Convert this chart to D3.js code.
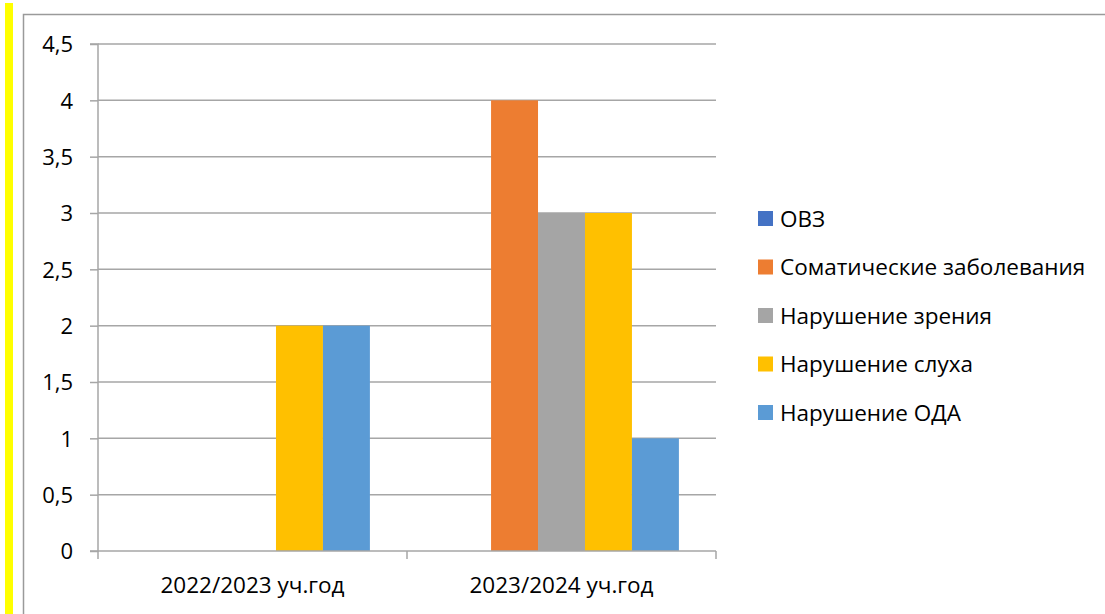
<!DOCTYPE html>
<html>
<head>
<meta charset="utf-8">
<script src="https://cdn.jsdelivr.net/npm/d3@7"></script>
<style>
  body { margin: 0; background: #fff; }
  text { font-family: "Open Sans", "Noto Sans", sans-serif; fill: #000; }
</style>
</head>
<body>
<svg id="chart" width="1105" height="614"></svg>
<script>
const categories = ["2022/2023 уч.год", "2023/2024 уч.год"];
const seriesNames = ["ОВЗ", "Соматические заболевания", "Нарушение зрения", "Нарушение слуха", "Нарушение ОДА"];
const seriesColors = ["#4472C4", "#ED7D31", "#A5A5A5", "#FFC000", "#5B9BD5"];
const values = [
  [0, 0],   // ОВЗ
  [0, 4],   // Соматические заболевания
  [0, 3],   // Нарушение зрения
  [2, 3],   // Нарушение слуха
  [2, 1]    // Нарушение ОДА
];
const yTicks = [0, 0.5, 1, 1.5, 2, 2.5, 3, 3.5, 4, 4.5];

const svg = d3.select("#chart");

// yellow strip and outer frame
svg.append("rect").attr("x", 5).attr("y", 3).attr("width", 8).attr("height", 611).attr("fill", "#FFFF00");
svg.append("path").attr("d", "M23.5,614 V14.5 H1105").attr("fill", "none").attr("stroke", "#9a9a9a").attr("stroke-width", 1.5);

const margin = { left: 98, top: 44, right: 716, bottom: 551 };

const x0 = d3.scaleBand().domain(categories).range([margin.left, margin.right]).paddingInner(0).paddingOuter(0);
const x1 = d3.scaleBand().domain(seriesNames).range([0, x0.bandwidth()]).paddingOuter(0.79).paddingInner(0);
const y = d3.scaleLinear().domain([0, 4.5]).range([margin.bottom, margin.top]);

// gridlines
svg.append("g").selectAll("line").data(yTicks.filter(d => d > 0)).join("line")
  .attr("x1", margin.left).attr("x2", margin.right)
  .attr("y1", d => y(d)).attr("y2", d => y(d))
  .attr("stroke", "#a6a6a6").attr("stroke-width", 1.5);

// bars
const rows = [];
seriesNames.forEach((s, i) => categories.forEach((c, j) => rows.push({ s, c, v: values[i][j], color: seriesColors[i] })));
svg.append("g").selectAll("rect").data(rows.filter(d => d.v > 0)).join("rect")
  .attr("x", d => x0(d.c) + x1(d.s))
  .attr("width", x1.bandwidth())
  .attr("y", d => y(d.v))
  .attr("height", d => y(0) - y(d.v))
  .attr("fill", d => d.color);

// y axis
const yAxis = d3.axisLeft(y).tickValues(yTicks).tickSize(8).tickFormat(d => String(d).replace(".", ","));
const gy = svg.append("g").attr("transform", `translate(${margin.left},0)`).call(yAxis);
gy.select(".domain").attr("stroke", "#a6a6a6").attr("stroke-width", 1.5).attr("d", `M-8,${margin.top}H0V${margin.bottom}H-8`);
gy.selectAll(".tick line").attr("stroke", "#a6a6a6").attr("stroke-width", 1.5);
gy.selectAll(".tick text").attr("x", -25).attr("dy", "0.36em").style("font-size", "22px").style("font-family", "'Open Sans', sans-serif");

// x axis
const xAxis = d3.axisBottom(x0).tickSize(0).tickPadding(0);
const gx = svg.append("g").attr("transform", `translate(0,${margin.bottom})`).call(xAxis);
gx.select(".domain").attr("stroke", "#a6a6a6").attr("stroke-width", 1.5).attr("d", `M${margin.left},0H${margin.right}`);
gx.selectAll(".tick text").attr("y", 42).attr("dy", 0).style("font-size", "22.5px").style("font-family", "'Open Sans', sans-serif");
const xBounds = [margin.left, margin.left + x0.bandwidth(), margin.right];
gx.append("g").selectAll("line").data(xBounds).join("line")
  .attr("x1", d => d).attr("x2", d => d).attr("y1", 0).attr("y2", 8)
  .attr("stroke", "#a6a6a6").attr("stroke-width", 1.5);

// legend
const legend = svg.append("g").attr("transform", "translate(758,211)");
const li = legend.selectAll("g").data(seriesNames).join("g").attr("transform", (d, i) => `translate(0,${i * 48.5})`);
li.append("rect").attr("width", 15).attr("height", 15).attr("fill", (d, i) => seriesColors[i]);
li.append("text").attr("x", 22).attr("y", 7.5).attr("dy", "0.36em").style("font-size", "22.5px").text(d => d);
</script>
</body>
</html>
